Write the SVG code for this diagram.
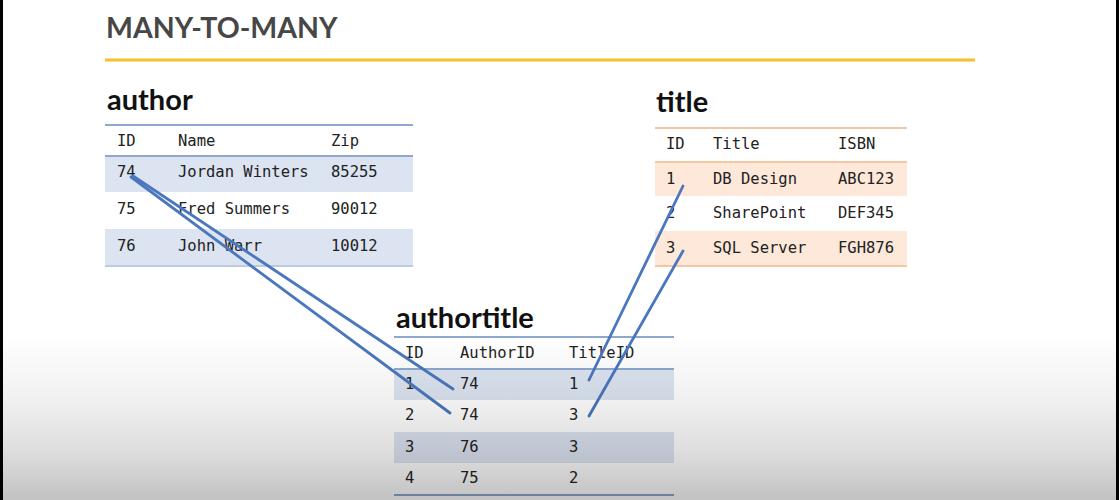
<svg xmlns="http://www.w3.org/2000/svg" width="1119" height="500" viewBox="0 0 1119 500">
  <defs>
    <linearGradient id="shade" x1="0" y1="335" x2="0" y2="500" gradientUnits="userSpaceOnUse">
      <stop offset="0" stop-color="#000" stop-opacity="0"/>
      <stop offset="0.4" stop-color="#000" stop-opacity="0.06"/>
      <stop offset="0.7" stop-color="#000" stop-opacity="0.13"/>
      <stop offset="1" stop-color="#000" stop-opacity="0.24"/>
    </linearGradient>
    <style>
      .h1 { font-family: Lato, "Open Sans", sans-serif; font-weight: 700; font-size: 28.5px; fill: #474747; }
      .h2 { font-family: Lato, "Open Sans", sans-serif; font-weight: 700; font-size: 29px; fill: #111; }
      .cell { font-family: "DejaVu Sans Mono", "Liberation Mono", monospace; font-size: 15.5px; fill: #222; }
      .blue-rule { stroke: #8ea8cf; stroke-width: 2; }
      .blue-band { fill: #dce4f1; }
      .orange-rule { stroke: #f4c7a3; stroke-width: 2; }
      .orange-band { fill: #fde8da; }
      .link { stroke: #4a77bd; stroke-width: 2.8; fill: none; stroke-linecap: round; }
    </style>
  </defs>

  <rect x="0" y="0" width="1119" height="500" fill="#fff"/>

  <!-- slide heading -->
  <g id="heading">
    <text class="h1" x="106" y="38">MANY-TO-MANY</text>
    <line x1="105" y1="60" x2="975" y2="60" stroke="#f5c126" stroke-width="3"/>
  </g>

  <!-- author table -->
  <g id="author">
    <text class="h2" x="107" y="110">author</text>
    <rect class="blue-band" x="105" y="156" width="308" height="36"/>
    <rect class="blue-band" x="105" y="229" width="308" height="36"/>
    <line class="blue-rule" x1="105" y1="125" x2="413" y2="125"/>
    <line class="blue-rule" x1="105" y1="156" x2="413" y2="156"/>
    <line class="blue-rule" x1="105" y1="266" x2="413" y2="266" stroke-opacity="0.6"/>
    <g class="cell">
      <text x="117" y="146">ID</text><text x="178" y="146">Name</text><text x="331" y="146">Zip</text>
      <text x="117" y="177">74</text><text x="178" y="177">Jordan Winters</text><text x="331" y="177">85255</text>
      <text x="117" y="214">75</text><text x="178" y="214">Fred Summers</text><text x="331" y="214">90012</text>
      <text x="117" y="251">76</text><text x="178" y="251">John Warr</text><text x="331" y="251">10012</text>
    </g>
  </g>

  <!-- title table -->
  <g id="title">
    <text class="h2" x="656" y="112">title</text>
    <rect class="orange-band" x="655" y="162" width="252" height="34"/>
    <rect class="orange-band" x="655" y="231" width="252" height="34"/>
    <line class="orange-rule" x1="655" y1="128" x2="907" y2="128"/>
    <line class="orange-rule" x1="655" y1="162" x2="907" y2="162"/>
    <line class="orange-rule" x1="655" y1="266" x2="907" y2="266"/>
    <g class="cell">
      <text x="666" y="149">ID</text><text x="713" y="149">Title</text><text x="838" y="149">ISBN</text>
      <text x="666" y="184">1</text><text x="713" y="184">DB Design</text><text x="838" y="184">ABC123</text>
      <text x="666" y="218">2</text><text x="713" y="218">SharePoint</text><text x="838" y="218">DEF345</text>
      <text x="666" y="253">3</text><text x="713" y="253">SQL Server</text><text x="838" y="253">FGH876</text>
    </g>
  </g>

  <!-- authortitle junction table -->
  <g id="authortitle">
    <text class="h2" x="396" y="328">authortitle</text>
    <rect class="blue-band" x="394" y="369" width="280" height="31"/>
    <rect class="blue-band" x="394" y="432" width="280" height="31"/>
    <line class="blue-rule" x1="394" y1="337" x2="674" y2="337"/>
    <line class="blue-rule" x1="394" y1="369" x2="674" y2="369"/>
    <line class="blue-rule" x1="394" y1="495" x2="674" y2="495"/>
    <g class="cell">
      <text x="405" y="358">ID</text><text x="460" y="358">AuthorID</text><text x="569" y="358">TitleID</text>
      <text x="405" y="389">1</text><text x="460" y="389">74</text><text x="569" y="389">1</text>
      <text x="405" y="420">2</text><text x="460" y="420">74</text><text x="569" y="420">3</text>
      <text x="405" y="452">3</text><text x="460" y="452">76</text><text x="569" y="452">3</text>
      <text x="405" y="483">4</text><text x="460" y="483">75</text><text x="569" y="483">2</text>
    </g>
  </g>

  <!-- foreign key links -->
  <g id="connectors">
    <line class="link" x1="133" y1="176" x2="453" y2="389"/>
    <line class="link" x1="131" y1="177" x2="450" y2="413"/>
    <line class="link" x1="683" y1="186" x2="589" y2="380"/>
    <line class="link" x1="683" y1="251" x2="589" y2="416"/>
  </g>

  <!-- lower fade and frame edges -->
  <rect x="0" y="335" width="1119" height="165" fill="url(#shade)"/>
  <rect x="0" y="0" width="3" height="500" fill="#000"/>
  <rect x="1116" y="0" width="3" height="500" fill="#000"/>
</svg>
